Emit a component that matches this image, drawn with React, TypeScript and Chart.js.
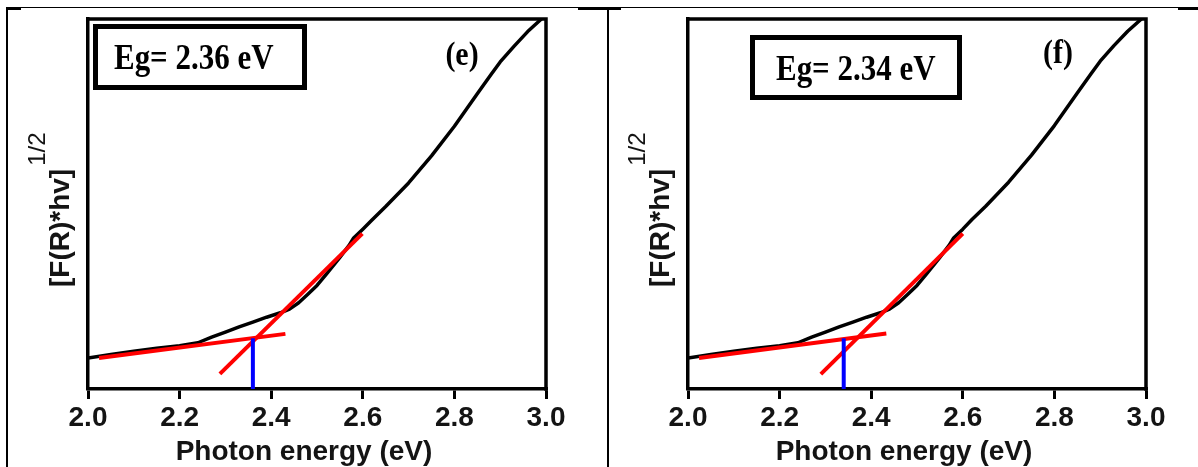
import { useEffect, useRef } from "react";
import { Chart, registerables } from "chart.js";

Chart.register(...registerables);

// Photon energy (eV) and [F(R)*hv]^1/2 in arbitrary units, panel (e)
const energyE = [2.0, 2.05, 2.1, 2.15, 2.2, 2.24, 2.27, 2.3, 2.33, 2.36, 2.39, 2.42, 2.44, 2.46, 2.48, 2.5, 2.52, 2.55, 2.57, 2.58, 2.6, 2.62, 2.65, 2.7, 2.75, 2.8, 2.85, 2.88, 2.9, 2.93, 2.96, 2.99];
const kmE = [8.4, 9.3, 10.2, 11.0, 11.7, 12.5, 14.0, 15.4, 16.8, 18.1, 19.4, 20.6, 21.6, 23.3, 25.6, 28.0, 31.0, 35.6, 38.8, 40.8, 43.2, 45.7, 49.3, 55.7, 63.0, 71.0, 79.8, 85.0, 88.4, 92.6, 96.6, 100];

// Panel (f)
const energyF = [2.0, 2.05, 2.1, 2.15, 2.2, 2.24, 2.27, 2.3, 2.33, 2.36, 2.39, 2.42, 2.44, 2.46, 2.48, 2.5, 2.52, 2.55, 2.57, 2.58, 2.6, 2.62, 2.65, 2.7, 2.75, 2.8, 2.85, 2.88, 2.9, 2.93, 2.96, 2.99];
const kmF = [8.4, 9.3, 10.2, 11.0, 11.7, 12.5, 14.0, 15.4, 16.8, 18.1, 19.4, 20.6, 21.6, 23.3, 25.6, 28.0, 31.0, 35.6, 38.8, 40.8, 43.2, 45.8, 49.4, 55.9, 63.2, 71.2, 80.0, 85.2, 88.6, 92.8, 96.7, 100];

// Linear fits: sub-gap baseline and absorption edge
const baseFitXE = [2.024, 2.431];
const baseFitYE = [8.4, 14.9];
const edgeFitXE = [2.288, 2.599];
const edgeFitYE = [4.1, 42.0];
const baseFitXF = [2.024, 2.433];
const baseFitYF = [8.4, 15.0];
const edgeFitXF = [2.29, 2.6];
const edgeFitYF = [4.0, 42.0];

// Band gaps (eV) and height of the marker
const bandGapE = 2.36;
const bandGapF = 2.34;
const gapMarkTop = 13.7;

const xTickValues = [2.0, 2.2, 2.4, 2.6, 2.8, 3.0];

const SANS = '"Liberation Sans", Arial, sans-serif';
const SERIF = '"Liberation Serif", "Times New Roman", serif';
const H = 467;

const pts = (xs: number[], ys: number[]) => xs.map((x, i) => ({ x, y: ys[i] }));

const framePlugin = {
  id: "frameAndTitles",
  afterDatasetsDraw(chart: any) {
    const { ctx, chartArea } = chart;
    const { left, right, top, bottom } = chartArea;
    ctx.save();
    ctx.strokeStyle = "#000";
    ctx.lineWidth = 3.5;
    ctx.lineCap = "square";
    ctx.beginPath();
    ctx.moveTo(left, top);
    ctx.lineTo(right, top);
    ctx.lineTo(right, bottom);
    ctx.stroke();
    ctx.restore();
  },
  afterDraw(chart: any) {
    const { ctx } = chart;
    ctx.save();
    ctx.fillStyle = "#141414";
    ctx.font = `bold 28px ${SANS}`;
    ctx.textAlign = "center";
    ctx.textBaseline = "alphabetic";
    ctx.fillText("Photon energy (eV)", 304, 460);

    ctx.translate(69, 287);
    ctx.rotate(-Math.PI / 2);
    ctx.textAlign = "left";
    const main = "[F(R)*hv]";
    ctx.fillText(main, 0, 0);
    const w = ctx.measureText(main).width;
    ctx.font = `24px ${SANS}`;
    ctx.fillText("1/2", w + 3, -24);
    ctx.restore();
  },
};

type PanelProps = {
  left: number;
  width: number;
  energy: number[];
  km: number[];
  baseX: number[];
  baseY: number[];
  edgeX: number[];
  edgeY: number[];
  gap: number;
  tag: string;
  box: { x: number; y: number; w: number; h: number; shift: number };
  tagPos: { x: number; y: number };
};

function Panel(p: PanelProps) {
  const ref = useRef<HTMLCanvasElement>(null);
  useEffect(() => {
    const chart = new Chart(ref.current as HTMLCanvasElement, {
      type: "line",
      data: {
        datasets: [
          {
            data: pts(p.energy, p.km),
            borderColor: "#000",
            borderWidth: 3.5,
            pointRadius: 0,
            borderJoinStyle: "round",
            order: 3,
          },
          { data: pts(p.baseX, p.baseY), borderColor: "#ff0000", borderWidth: 4, pointRadius: 0, order: 2 },
          { data: pts(p.edgeX, p.edgeY), borderColor: "#ff0000", borderWidth: 4, pointRadius: 0, order: 2 },
          {
            data: [
              { x: p.gap, y: 0 },
              { x: p.gap, y: gapMarkTop },
            ],
            borderColor: "#0000ff",
            borderWidth: 4,
            pointRadius: 0,
            order: 1,
          },
        ],
      } as any,
      options: {
        responsive: false,
        animation: false,
        devicePixelRatio: 1,
        layout: { padding: { top: 19, right: p.width - 546, left: 0, bottom: 0 } },
        plugins: { legend: { display: false }, tooltip: { enabled: false } },
        scales: {
          x: {
            type: "linear",
            min: 2,
            max: 3,
            afterBuildTicks: (s: any) => {
              s.ticks = xTickValues.map((v) => ({ value: v }));
            },
            afterFit: (s: any) => {
              s.height = H - 389;
            },
            ticks: {
              color: "#141414",
              font: { family: SANS, size: 28, weight: "bold" },
              padding: 2,
              maxRotation: 0,
              autoSkip: false,
              callback: (v: any) => Number(v).toFixed(1),
            },
            grid: { drawOnChartArea: false, drawTicks: true, tickLength: 10, color: "#000", lineWidth: 3 },
            border: { display: true, color: "#000", width: 3.5 },
          },
          y: {
            type: "linear",
            min: 0,
            max: 100,
            afterFit: (s: any) => {
              s.width = 88;
            },
            ticks: { display: false },
            grid: { display: false },
            border: { display: true, color: "#000", width: 3.5 },
          },
        },
      } as any,
      plugins: [framePlugin],
    });
    return () => chart.destroy();
  }, []);

  return (
    <div style={{ position: "absolute", left: p.left, top: 0, width: p.width, height: H }}>
      <canvas ref={ref} width={p.width} height={H} style={{ display: "block" }} />
      <div
        style={{
          position: "absolute",
          left: p.box.x,
          top: p.box.y,
          width: p.box.w,
          height: p.box.h,
          border: "5px solid #000",
          boxSizing: "border-box",
          display: "flex",
          alignItems: "center",
          justifyContent: "center",
        }}
      >
        <span
          style={{
            font: `bold 36px ${SERIF}`,
            display: "inline-block",
            whiteSpace: "nowrap",
            transform: `translateX(${p.box.shift}px) scaleX(0.86)`,
            color: "#000",
          }}
        >
          {`Eg= ${p.gap.toFixed(2)} eV`}
        </span>
      </div>
      <span
        style={{
          position: "absolute",
          left: p.tagPos.x,
          top: p.tagPos.y,
          transform: "translate(-50%, -50%) scaleX(0.88)",
          font: `bold 34px ${SERIF}`,
          whiteSpace: "nowrap",
          color: "#000",
        }}
      >
        {p.tag}
      </span>
    </div>
  );
}

const line = (l: number, t: number, w: number, h: number) => (
  <div style={{ position: "absolute", left: l, top: t, width: w, height: h, background: "#000" }} />
);

export default function App() {
  return (
    <div style={{ position: "absolute", left: 0, top: 0, width: 1198, height: H, background: "#fff", overflow: "hidden" }}>
      <Panel
        left={0}
        width={600}
        energy={energyE}
        km={kmE}
        baseX={baseFitXE}
        baseY={baseFitYE}
        edgeX={edgeFitXE}
        edgeY={edgeFitYE}
        gap={bandGapE}
        tag="(e)"
        box={{ x: 93, y: 24, w: 214, h: 66, shift: -6 }}
        tagPos={{ x: 462, y: 54 }}
      />
      <Panel
        left={600}
        width={598}
        energy={energyF}
        km={kmF}
        baseX={baseFitXF}
        baseY={baseFitYF}
        edgeX={edgeFitXF}
        edgeY={edgeFitYF}
        gap={bandGapF}
        tag="(f)"
        box={{ x: 150, y: 35, w: 212, h: 65, shift: 0 }}
        tagPos={{ x: 458, y: 52 }}
      />
      {line(7, 7, 1191, 1)}
      {line(6, 7, 15, 2.5)}
      {line(578, 7, 43, 2.5)}
      {line(1178, 7, 20, 2.5)}
      {line(6, 7, 2, H - 7)}
      {line(607, 7, 2, H - 7)}
    </div>
  );
}
